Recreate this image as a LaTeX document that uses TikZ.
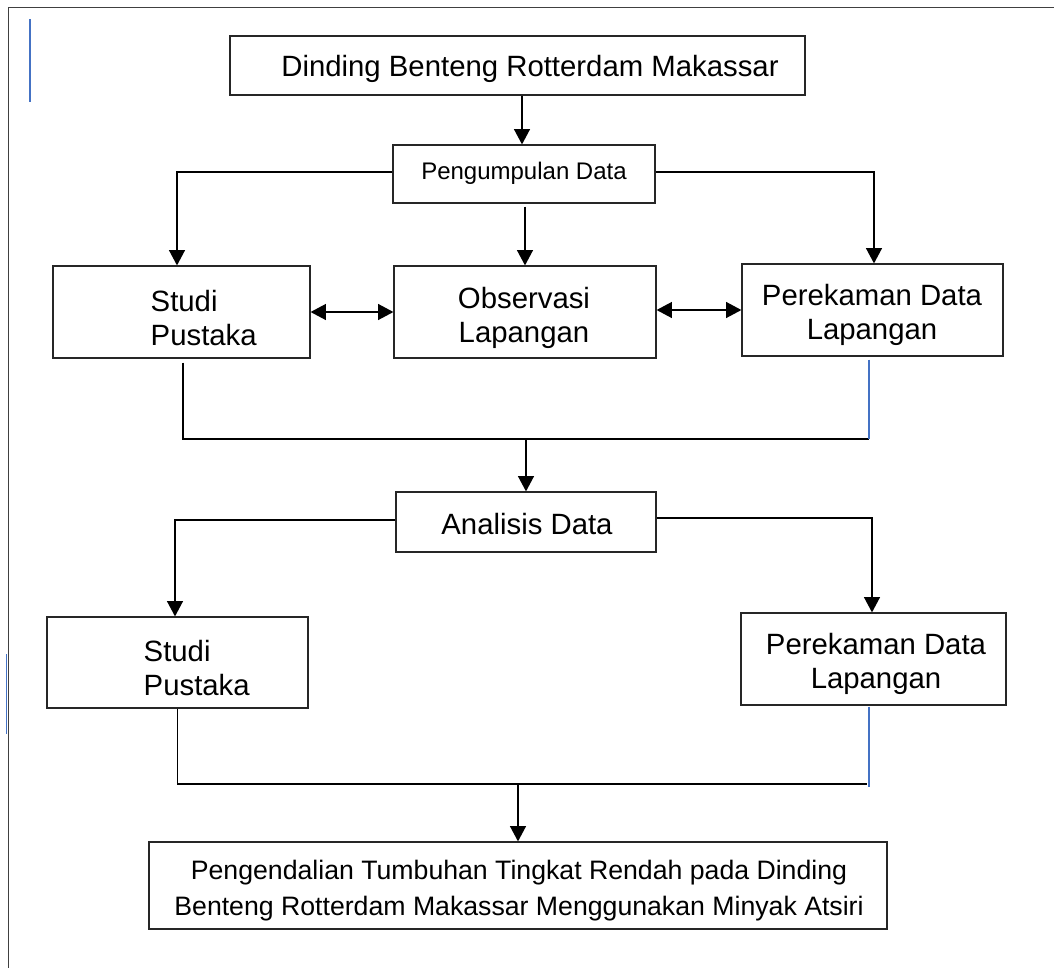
\documentclass[tikz,border=0pt]{standalone}
\usepackage{fontspec}
\setmainfont{Liberation Sans}
\usetikzlibrary{arrows.meta,fit,calc}
\definecolor{wordblue}{RGB}{68,114,196}
\begin{document}
\begin{tikzpicture}[x=0.75pt,y=-0.75pt,
  box/.style={draw=black!85, line width=0.9pt, inner sep=0pt},
  conn/.style={draw=black, line width=0.9pt},
  arr/.style={conn, -{Triangle[width=12pt,length=11.5pt]}},
  darr/.style={conn, {Triangle[width=12pt,length=11.5pt]}-{Triangle[width=12pt,length=11.5pt]}},
  blueline/.style={draw=wordblue, line width=1.1pt},
  big/.style={font=\fontsize{22}{25.5}\selectfont, align=center},
  mid/.style={font=\fontsize{18}{21}\selectfont, align=center},
  fin/.style={font=\fontsize{20}{27}\selectfont, align=center},
]
\useasboundingbox (0,0) rectangle (1054,968);
% page frame
\draw[draw=black!75, line width=1pt] (8.5,968) -- (8.5,7.5) -- (1054,7.5);
\draw[blueline] (30,19) -- (30,102);
\draw[blueline] (6.5,654) -- (6.5,734);

% boxes
\node[box, fit={(230,36)(805,95)}] (top) {};
\node[big] (toptxt) at (530,69) {Dinding Benteng Rotterdam Makassar};
\node[box, fit={(393,145)(655,203)}] (peng) {};
\node[mid] (pengtxt) at (524,173) {Pengumpulan Data};
\node[box, fit={(53,266)(310,358)}] (s1) {};
\node[big, anchor=west, align=left] (s1txt) at (146,318) {Studi\\Pustaka};
\node[box, fit={(394,266)(656,358)}] (obs) {};
\node[big] (obstxt) at (524,318) {Observasi\\Lapangan};
\node[box, fit={(742,264)(1003,356)}] (p1) {};
\node[big] (p1txt) at (872,315) {Perekaman Data\\Lapangan};
\node[box, fit={(396,492)(656,552)}] (ana) {};
\node[big] (anatxt) at (527,524) {Analisis Data};
\node[box, fit={(47,617)(308,708)}] (s2) {};
\node[big, anchor=west, align=left] (s2txt) at (139,668) {Studi\\Pustaka};
\node[box, fit={(741,613)(1006,705)}] (p2) {};
\node[big] (p2txt) at (876,664) {Perekaman Data\\Lapangan};
\node[box, fit={(149,842)(887,929)}] (final) {};
\node[fin] (fintxt) at (519,891) {Pengendalian Tumbuhan Tingkat Rendah pada Dinding\\Benteng Rotterdam Makassar Menggunakan Minyak Atsiri};

% connectors
\coordinate (c1) at (522,0);
\draw[arr] (top.south -| c1) -- (peng.north -| c1);
\draw[arr] ($(peng.west)+(0,-2)$) -| ($(s1.north)+(-4.5,0)$);
\draw[arr] ($(peng.east)+(0,-2)$) -| ($(p1.north)+(1.5,0)$);
\draw[arr] ($(peng.south)+(1,3)$) -- (obs.north);
\draw[darr] (s1.east) -- (obs.east -| obs.west);
\draw[darr] ($(obs.east)+(0,-2)$) -- (p1.west);

\coordinate (m1) at (869,439);
\draw[conn] ($(s1.south)+(1.5,4)$) |- (m1);
\draw[blueline] ($(p1.south)+(-3.5,3)$) -- (m1);
\draw[arr] (m1 -| ana.north) -- (ana.north);

\draw[arr] ($(ana.west)+(0,-2)$) -| ($(s2.north)+(-2.5,0)$);
\draw[arr] ($(ana.east)+(0,-4)$) -| ($(p2.north)+(-1.5,0)$);

\coordinate (m2) at (867,784);
\coordinate (m2b) at (869,787);
\draw[conn] (s2.south) |- (m2);
\draw[blueline] ($(p2.south)+(-4.5,1)$) -- (m2b);
\draw[arr] (m2 -| final.north) -- (final.north);
\end{tikzpicture}
\end{document}
